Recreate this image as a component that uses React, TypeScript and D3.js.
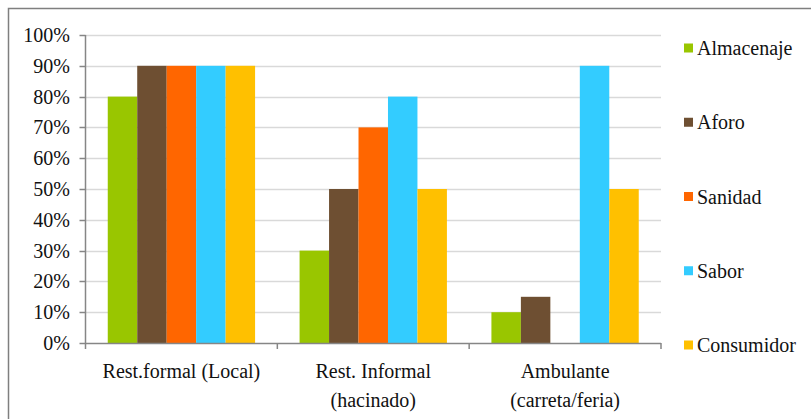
import React from "react";
import * as d3 from "d3";

const categories = ["Rest.formal (Local)", "Rest. Informal (hacinado)", "Ambulante (carreta/feria)"];
const categoryLines = [["Rest.formal (Local)"], ["Rest. Informal", "(hacinado)"], ["Ambulante", "(carreta/feria)"]];
const seriesNames = ["Almacenaje", "Aforo", "Sanidad", "Sabor", "Consumidor"];
const seriesColors = ["#99c600", "#6e4f32", "#ff6600", "#33ccff", "#ffc000"];
const almacenaje = [0.8, 0.3, 0.1];
const aforo = [0.9, 0.5, 0.15];
const sanidad = [0.9, 0.7, 0];
const sabor = [0.9, 0.8, 0.9];
const consumidor = [0.9, 0.5, 0.5];
const yTicks = [0, 0.1, 0.2, 0.3, 0.4, 0.5, 0.6, 0.7, 0.8, 0.9, 1];

const seriesValues = [almacenaje, aforo, sanidad, sabor, consumidor];

export default function App() {
  const left = 85.5, right = 661, top = 35, bottom = 343;
  const y = d3.scaleLinear().domain([0, 1]).range([bottom, top]);
  const x0 = d3.scaleBand<string>().domain(categories).range([left, right]).paddingInner(0.232).paddingOuter(0.116);
  const x1 = d3.scaleBand<string>().domain(seriesNames).range([0, x0.bandwidth()]).padding(0);
  const fmt = d3.format(".0%");
  const textStyle: React.CSSProperties = { fontFamily: '"Liberation Serif"', fontSize: "20px" };
  const step = (right - left) / categories.length;
  const legendY = d3.scalePoint<string>().domain(seriesNames).range([48, 345]);

  return (
    <svg width={811} height={419} style={{ position: "absolute", left: 0, top: 0, background: "#fff" }}>
      <rect x={8.5} y={8.5} width={900} height={900} fill="#fff" stroke="#7f7f7f" strokeWidth={1.5} />
      {yTicks.map((t) => (
        <g key={t}>
          {t > 0 && <line x1={left} x2={right} y1={Math.round(y(t)) + 0.5} y2={Math.round(y(t)) + 0.5} stroke="#d9d9d9" strokeWidth={1.5} />}
          <line x1={left - 6} x2={left} y1={Math.round(y(t)) + 0.5} y2={Math.round(y(t)) + 0.5} stroke="#868686" strokeWidth={1.5} />
          <text x={70} y={y(t)} dy="0.35em" textAnchor="end" style={textStyle} fill="#111">{fmt(t)}</text>
        </g>
      ))}
      {categories.map((c, ci) => (
        <g key={c} transform={`translate(${x0(c)},0)`}>
          {seriesNames.map((s, si) => {
            const v = seriesValues[si][ci];
            return (
              <rect key={s} x={x1(s)} y={y(v)} width={x1.bandwidth()} height={bottom - y(v)} fill={seriesColors[si]} />
            );
          })}
        </g>
      ))}
      <line x1={left} x2={left} y1={top} y2={bottom} stroke="#868686" strokeWidth={1.5} />
      <line x1={left} x2={right} y1={bottom + 0.5} y2={bottom + 0.5} stroke="#868686" strokeWidth={1.5} />
      {d3.range(categories.length + 1).map((i) => (
        <line key={i} x1={left + i * step} x2={left + i * step} y1={bottom} y2={bottom + 6} stroke="#868686" strokeWidth={1.5} />
      ))}
      {categories.map((c, ci) => (
        <text key={c} x={(x0(c) as number) + x0.bandwidth() / 2} y={371} textAnchor="middle" style={textStyle} fill="#111">
          {categoryLines[ci].map((line, li) => (
            <tspan key={li} x={(x0(c) as number) + x0.bandwidth() / 2} y={371 + li * 29} dy="0.35em">{line}</tspan>
          ))}
        </text>
      ))}
      {seriesNames.map((s, si) => (
        <g key={s} transform={`translate(0,${legendY(s)})`}>
          <rect x={684} y={-4.5} width={9} height={9} fill={seriesColors[si]} />
          <text x={697} y={0} dy="0.35em" style={textStyle} fill="#111">{s}</text>
        </g>
      ))}
    </svg>
  );
}
